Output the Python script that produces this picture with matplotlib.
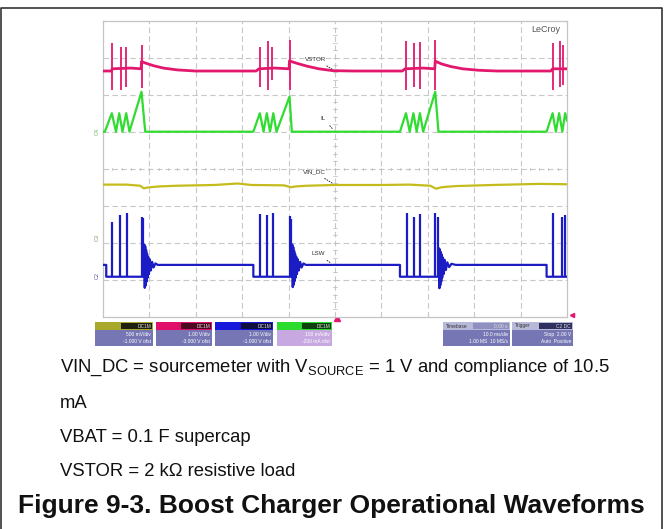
import numpy as np
import matplotlib.pyplot as plt
from matplotlib.patches import Rectangle

plt.rcParams["font.family"] = ["Liberation Sans", "DejaVu Sans"]
plt.rcParams["mathtext.fontset"] = "custom"
plt.rcParams["mathtext.rm"] = "Liberation Sans"

# --- scope traces, in screen divisions (10 x 8 grid) ---
# VSTOR (magenta): slow part of the trace
vstor_t = [0.00, 0.18, 0.20, 0.60, 0.82, 0.83, 0.86, 0.95, 1.10, 1.30, 1.60, 2.00,
           3.30, 3.36, 3.70, 4.01, 4.02, 4.05, 4.20, 4.40, 4.65, 4.95, 5.40,
           6.45, 6.51, 6.90, 7.15, 7.16, 7.19, 7.30, 7.50, 7.75, 8.10, 8.50,
           9.65, 9.69, 10.00]
vstor_v = [6.64, 6.64, 6.70, 6.72, 6.70, 6.90, 6.88, 6.84, 6.78, 6.72, 6.67, 6.64,
           6.64, 6.70, 6.72, 6.70, 6.92, 6.90, 6.84, 6.77, 6.70, 6.65, 6.64,
           6.64, 6.70, 6.72, 6.70, 6.91, 6.89, 6.83, 6.76, 6.70, 6.66, 6.64,
           6.64, 6.70, 6.70]
# VSTOR switching spikes
vstor_spike_t = [0.20, 0.38, 0.50, 0.83, 3.38, 3.56, 3.65, 4.02,
                 6.53, 6.71, 6.83, 7.16, 9.70, 9.85, 9.91]
vstor_spike_hi = [7.41, 7.30, 7.30, 7.35, 7.30, 7.45, 7.30, 7.47,
                  7.45, 7.40, 7.42, 7.47, 7.40, 7.45, 7.35]
vstor_spike_lo = [6.13, 6.13, 6.20, 6.18, 6.22, 6.13, 6.40, 6.13,
                  6.13, 6.20, 6.15, 6.13, 6.13, 6.20, 6.25]

# IL (green): inductor current ramps
il_t = [0.00, 0.04, 0.19, 0.28, 0.35, 0.42, 0.50, 0.57, 0.83, 0.91,
        3.24, 3.38, 3.46, 3.53, 3.60, 3.67, 3.74, 4.02, 4.07,
        6.40, 6.53, 6.61, 6.69, 6.76, 6.83, 6.90, 7.16, 7.23,
        9.56, 9.69, 9.76, 9.83, 9.90, 9.96, 10.00]
il_v = [5.00, 5.00, 5.50, 5.00, 5.50, 5.00, 5.50, 5.00, 6.08, 5.00,
        5.00, 5.50, 5.00, 5.50, 5.00, 5.50, 5.00, 5.95, 5.00,
        5.00, 5.50, 5.00, 5.50, 5.00, 5.50, 5.00, 6.08, 5.00,
        5.00, 5.50, 5.00, 5.50, 5.00, 5.50, 5.30]

# VIN_DC (yellow)
vin_t = [0.00, 0.50, 0.80, 0.88, 0.95, 1.20, 1.60, 2.40, 2.90, 3.20, 3.90, 4.05,
         4.15, 4.40, 5.00, 6.00, 6.60, 7.05, 7.18, 7.30, 7.60, 8.40, 9.40, 10.00]
vin_v = [3.57, 3.57, 3.54, 3.47, 3.49, 3.52, 3.54, 3.56, 3.60, 3.56, 3.55, 3.50,
         3.52, 3.54, 3.56, 3.56, 3.57, 3.54, 3.46, 3.50, 3.53, 3.56, 3.59, 3.58]

# LSW (blue): switch node level with ringing after each burst
lsw_t = [0.00, 0.07, 0.07, 0.88, 0.89, 0.90, 0.91, 0.92, 0.93, 0.94, 0.95, 0.96,
         0.975, 0.99, 1.01, 1.03, 1.06, 1.09, 1.13, 1.18, 3.24, 3.24,
         4.07, 4.08, 4.09, 4.10, 4.11, 4.12, 4.13, 4.14, 4.15, 4.165, 4.18, 4.20,
         4.22, 4.25, 4.28, 4.32, 4.37, 6.40, 6.40,
         7.23, 7.24, 7.25, 7.26, 7.27, 7.28, 7.29, 7.30, 7.31, 7.325, 7.34, 7.36,
         7.39, 7.42, 7.46, 7.51, 7.60, 9.56, 9.56, 10.00]
lsw_v = [1.40, 1.40, 1.08, 1.08, 1.95, 0.78, 1.90, 0.84, 1.80, 0.95, 1.70, 1.05,
         1.62, 1.15, 1.55, 1.25, 1.48, 1.33, 1.44, 1.40, 1.40, 1.08,
         1.08, 1.95, 0.80, 1.88, 0.86, 1.78, 0.96, 1.70, 1.05, 1.62, 1.15, 1.55,
         1.25, 1.48, 1.33, 1.44, 1.40, 1.40, 1.08,
         1.08, 1.85, 0.77, 1.82, 0.85, 1.75, 0.95, 1.68, 1.05, 1.60, 1.15, 1.54,
         1.26, 1.47, 1.34, 1.43, 1.40, 1.40, 1.08, 1.08]
lsw_pulse_t = [0.19, 0.37, 0.51, 0.83, 0.87, 3.38, 3.53, 3.67, 4.02, 4.06,
               6.55, 6.70, 6.83, 7.16, 7.21, 9.70, 9.89, 9.96]
lsw_pulse_hi = [2.57, 2.75, 2.80, 2.70, 2.68, 2.78, 2.75, 2.80, 2.72, 2.65,
                2.80, 2.70, 2.78, 2.80, 2.70, 2.80, 2.70, 2.75]
lsw_low = 1.08

trace_labels = ["VSTOR", "IL", "VIN_DC", "LSW"]

C_PINK = "#e2186e"
C_GREEN = "#2fdc2f"
C_YELLOW = "#c4bc1c"
C_BLUE = "#1c1cc4"

fig = plt.figure(figsize=(6.64, 5.29), dpi=100)

# full-figure overlay in pixel units for the page furniture
bg = fig.add_axes([0, 0, 1, 1])
bg.set_xlim(0, 664)
bg.set_ylim(529, 0)
bg.axis("off")
bg.plot([1, 1, 662, 662], [529, 8, 8, 529], color="#333333", lw=1.2)

# scope screen
ax = fig.add_axes([103 / 664, (529 - 316.7) / 529, 464 / 664, 296 / 529])
ax.set_xlim(0, 10)
ax.set_ylim(0, 8)
ax.set_xticks([])
ax.set_yticks([])
for s in ax.spines.values():
    s.set_color("#c4c4c4")
    s.set_linewidth(0.9)
for gx in range(1, 10):
    ax.axvline(gx, color="#c8c8c8", lw=0.8, dashes=(5, 3), zorder=1)
for gy in range(1, 8):
    ax.axhline(gy, color="#c8c8c8", lw=0.8, dashes=(5, 3), zorder=1)
# centre graticule ticks
for tx in np.arange(0.2, 10, 0.2):
    ax.plot([tx, tx], [3.97, 4.03], color="#bbbbbb", lw=0.5, zorder=1)
for ty in np.arange(0.2, 8, 0.2):
    ax.plot([4.96, 5.04], [ty, ty], color="#bbbbbb", lw=0.5, zorder=1)

ax.plot(vin_t, vin_v, color=C_YELLOW, lw=1.6, zorder=3)
ax.plot(il_t, il_v, color=C_GREEN, lw=1.6, zorder=3)
ax.plot(vstor_t, vstor_v, color=C_PINK, lw=2.0, zorder=3)
ax.vlines(vstor_spike_t, vstor_spike_lo, vstor_spike_hi, color=C_PINK, lw=1.3, zorder=3)
ax.plot(lsw_t, lsw_v, color=C_BLUE, lw=1.6, zorder=3)
ax.vlines(lsw_pulse_t, lsw_low, lsw_pulse_hi, color=C_BLUE, lw=1.6, zorder=3)

# trace labels with dotted leaders
label_pos = [(4.59, 6.96), (4.75, 5.36), (4.55, 3.92), (4.63, 1.71)]
label_tip = [(5.0, 6.64), (5.0, 5.0), (5.0, 3.56), (4.96, 1.40)]
for name, (lx, ly), (px, py) in zip(trace_labels, label_pos, label_tip):
    ax.annotate(name, xy=(px, py), xytext=(lx, ly), fontsize=4.5, color="#333333",
                ha="center", va="center", zorder=4,
                arrowprops=dict(arrowstyle="-", linestyle=":", color="#333333", lw=0.7))

ax.text(0.985, 0.985, "LeCroy", transform=ax.transAxes, fontsize=6.5, color="#555555",
        ha="right", va="top")

# channel reference markers on the left
for txt, yy, col in [("C4", 5.0, "#6ab46a"), ("C3", 2.15, "#8a8a60"), ("C2", 1.1, "#5a5aa0")]:
    ax.text(-0.13, yy, txt, fontsize=4, color=col, rotation=90, ha="center", va="center",
            clip_on=False)

# trigger markers
bg.plot([337], [318], marker="^", color=C_PINK, markersize=4)
bg.plot([572], [315], marker="<", color=C_PINK, markersize=3)


def panel(x0, x1, head, dark, body, title, line1, line2, txt="white"):
    w = x1 - x0
    bg.add_patch(Rectangle((x0, 322), w, 8, color=head, lw=0))
    bg.add_patch(Rectangle((x0 + 0.45 * w, 323), 0.53 * w, 6, color=dark, lw=0))
    bg.add_patch(Rectangle((x0, 330), w, 16, color=body, lw=0))
    bg.text(x1 - 2, 326, title, fontsize=3.5, color="#dddddd", ha="right", va="center")
    bg.text(x1 - 2, 334.5, line1, fontsize=3.5, color=txt, ha="right", va="center")
    bg.text(x1 - 2, 341.5, line2, fontsize=3.5, color=txt, ha="right", va="center")


panel(95, 153, "#a8a82c", "#202010", "#7676b4", "DC1M", "500 mV/div", "-1.000 V ofst")
panel(156, 212, "#e0106a", "#4a0a20", "#7676b4", "DC1M", "1.00 V/div", "-3.000 V ofst")
panel(215, 273, "#1818dc", "#101040", "#7676b4", "DC1M", "1.00 V/div", "-1.000 V ofst")
panel(277, 332, "#2cdc2c", "#104010", "#c8a8e0", "DC1M", "100 mA/div", "-200 mA ofst")
panel(443, 510, "#b8b8d8", "#9090c0", "#7676b4", "0.00 s", "10.0 ms/div", "1.00 MS  10 MS/s")
panel(512, 573, "#b8b8d8", "#303060", "#7676b4", "C2 DC", "Stop  2.00 V", "Auto  Positive")
bg.text(446, 326, "Timebase", fontsize=3.5, color="#333333", va="center")
bg.text(515, 326, "Trigger", fontsize=3.5, color="#333333", va="center")

# notes below the screenshot
note_fs = 13.3
bg.text(60, 368, "VIN_DC = sourcemeter with V$_{\\mathrm{SOURCE}}$ = 1 V and compliance of 10.5",
        fontsize=note_fs, color="#111111", va="center")
bg.text(60, 403, "mA", fontsize=note_fs, color="#111111", va="center")
bg.text(60, 437, "VBAT = 0.1 F supercap", fontsize=note_fs, color="#111111", va="center")
bg.text(60, 472, "VSTOR = 2 k\u03a9 resistive load", fontsize=note_fs, color="#111111", va="center")
bg.text(18, 506, "Figure 9-3. Boost Charger Operational Waveforms", fontsize=19,
        fontweight="bold", color="#111111", va="center")

fig.savefig("out.png", dpi=100)
